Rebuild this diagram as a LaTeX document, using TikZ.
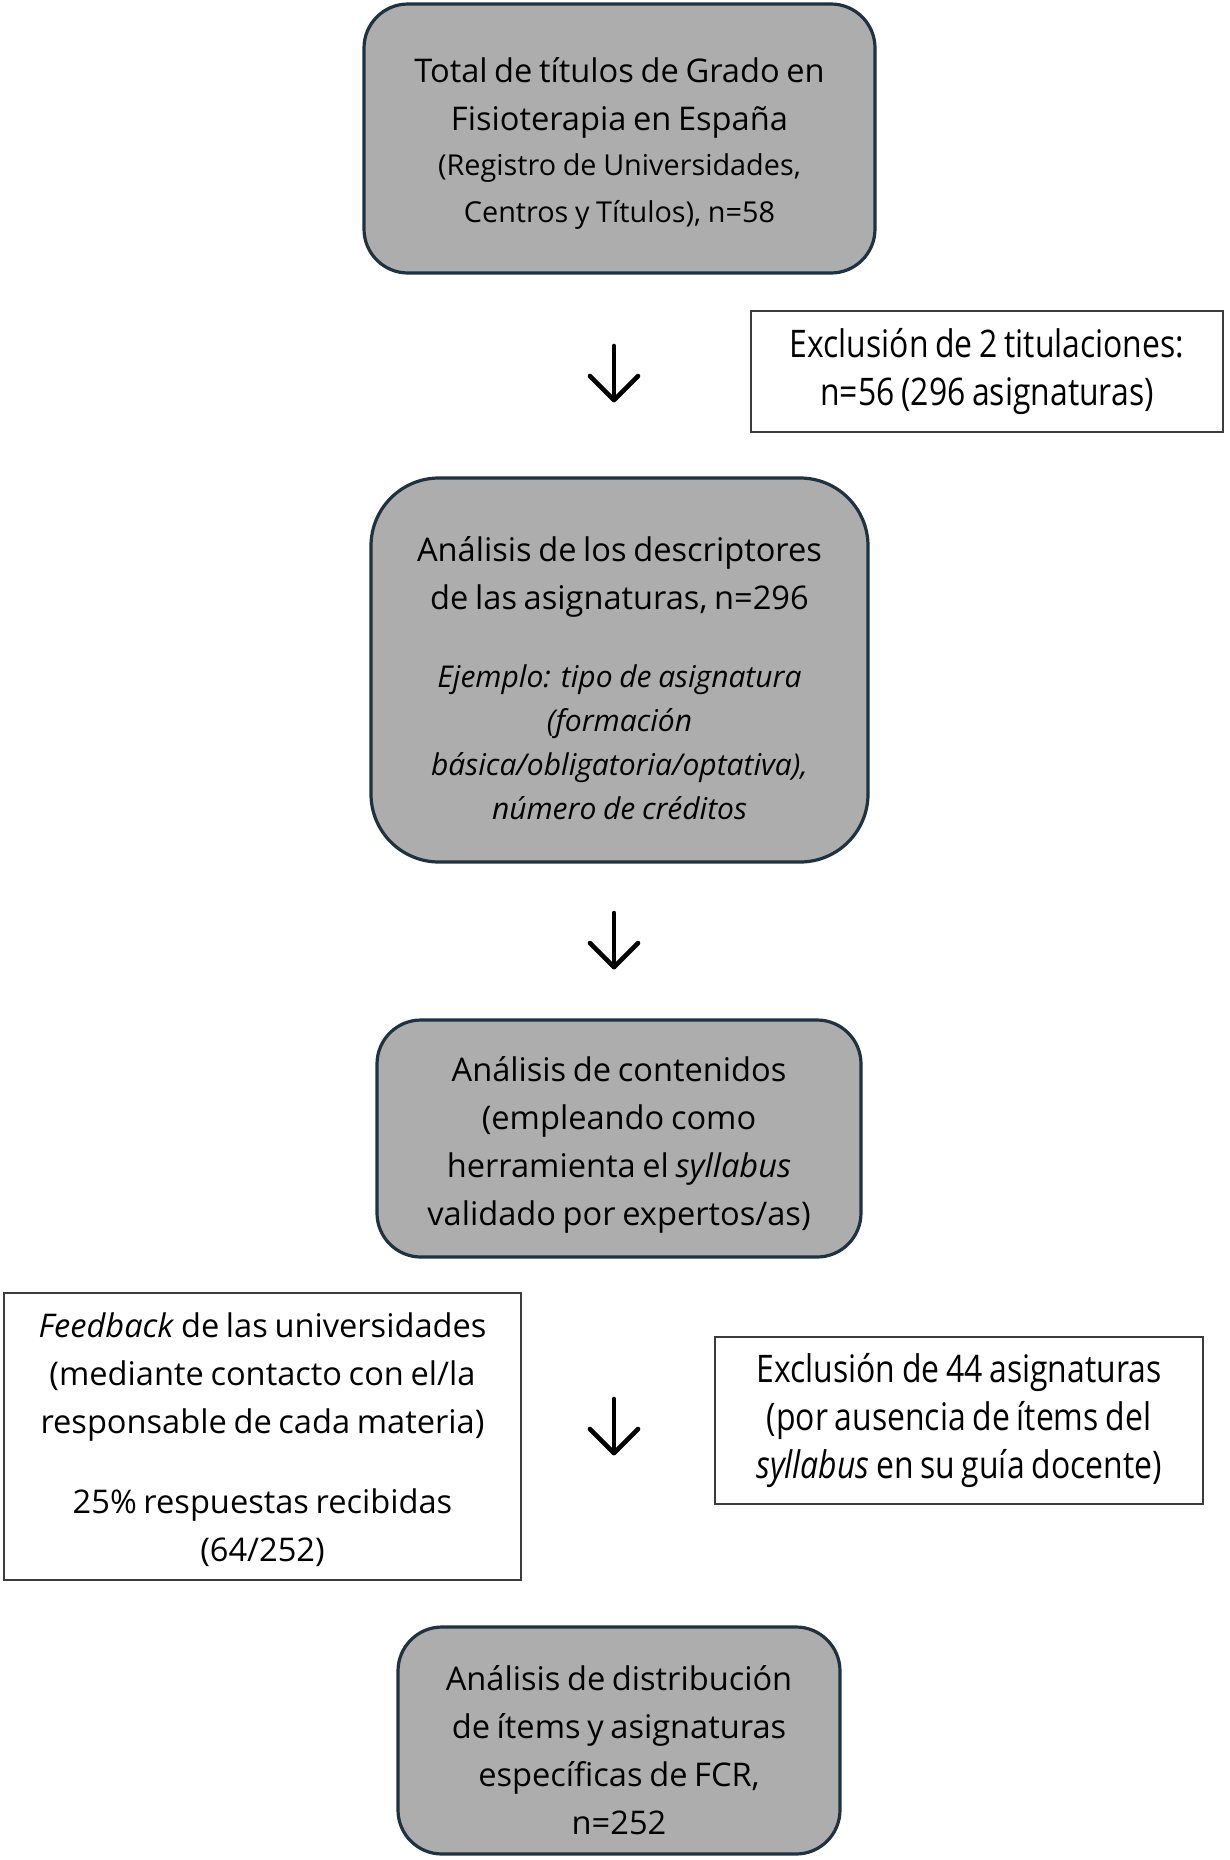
\documentclass[tikz,border=0pt]{standalone}
\usepackage{fontspec}
\usetikzlibrary{calc}
\setmainfont[Ligatures=NoCommon]{Open Sans}
\newfontfamily\narrowfont[FakeStretch=0.84,Ligatures=NoCommon]{Open Sans}
\definecolor{boxgray}{RGB}{173,173,173}
\definecolor{boxline}{RGB}{30,50,66}
\definecolor{thinline}{RGB}{60,60,60}
\lineskiplimit=-100pt
\newcommand\bigf{\fontsize{16.3}{24}\selectfont}
\newcommand\smallf{\fontsize{14.4}{23.5}\selectfont}
\newcommand\exclf{\narrowfont\fontsize{19}{24}\selectfont}
\newcommand\lowerby[1]{\par\kern-#1}
\begin{document}
\begin{tikzpicture}[x=0.5pt,y=-0.5pt,
  graybox/.style={draw=boxline,line width=1.6pt,fill=boxgray,rounded corners=22pt,align=center,inner sep=0pt},
  whitebox/.style={draw=thinline,line width=0.9pt,fill=white,align=center,inner sep=0pt},
  downarrow/.style={line width=2.3pt,line cap=round,line join=round}]
\useasboundingbox (0,0) rectangle (1230,1860);
\fill[white] (0,0) rectangle (1230,1860);

\node[graybox,minimum width=255.5pt,minimum height=134.5pt,text width=250pt] (b1) at (619.5,138.5)
 {{\bigf Total de títulos de Grado en\\ Fisioterapia en España\par}\vspace{-1pt}
  {\smallf (Registro de Universidades,\\ Centros y Títulos), n=58\par}\lowerby{5.2pt}};

\node[whitebox,minimum width=236pt,minimum height=60.5pt,text width=232pt] (e1) at (987,371.5)
 {\exclf Exclusión de 2 titulaciones:\\ n=56 (296 asignaturas)\par};

\node[graybox,rounded corners=34pt,minimum width=248.5pt,minimum height=192pt,text width=244pt] (b2) at (619.5,670)
 {{\bigf Análisis de los descriptores\\ de las asignaturas, n=296\par}\vspace{17pt}
  {\itshape\fontsize{15}{22}\selectfont Ejemplo: tipo de asignatura\\ (formación\\ básica/obligatoria/optativa),\\ número de créditos\par}\lowerby{7.7pt}};

\node[graybox,minimum width=242pt,minimum height=118.5pt,text width=238pt] (b3) at (619,1138.5)
 {\bigf Análisis de contenidos\\ (empleando como\\ herramienta el \textit{syllabus}\\ validado por expertos/as)\lowerby{6pt}};

\node[whitebox,minimum width=258.5pt,minimum height=143.5pt,text width=254pt] (fb) at (262.5,1436.5)
 {\bigf \textit{Feedback} de las universidades\\ (mediante contacto con el/la\\ responsable de cada materia)\par\vspace{16pt}
  25\% respuestas recibidas\\ (64/252)\lowerby{3.5pt}};

\node[whitebox,minimum width=244pt,minimum height=83.5pt,text width=240pt] (e2) at (959,1420.5)
 {\exclf Exclusión de 44 asignaturas\\ (por ausencia de ítems del\\ \textit{syllabus} en su guía docente)\par};

\node[graybox,minimum width=221pt,minimum height=113.5pt,text width=217pt] (b4) at (619,1740.5)
 {\bigf Análisis de distribución\\ de ítems y asignaturas\\ específicas de FCR,\\ n=252\lowerby{9.5pt}};

% arrows (free-standing)
\coordinate (a1t) at (614,346); \coordinate (a1b) at (614,400);
\coordinate (a2t) at (614,913); \coordinate (a2b) at (614,967);
\coordinate (a3t) at (614,1399); \coordinate (a3b) at (614,1453);
\foreach \t/\b in {a1t/a1b,a2t/a2b,a3t/a3b}{
  \draw[downarrow] (\t) -- (\b);
  \draw[downarrow] ($(\b)+(-24,-24)$) -- (\b) -- ($(\b)+(24,-24)$);
}
\end{tikzpicture}
\end{document}
